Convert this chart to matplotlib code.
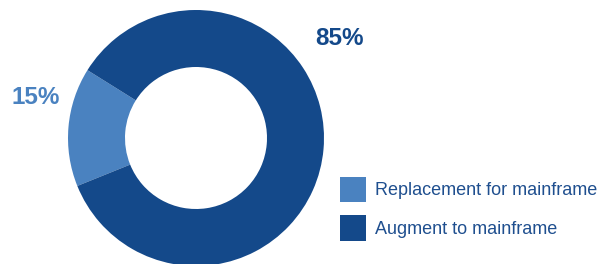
import matplotlib
matplotlib.use("Agg")
import matplotlib.pyplot as plt

categories = ["Replacement for mainframe", "Augment to mainframe"]
values = [15, 85]
colors = ["#4a82c0", "#14498a"]
label_pos = [(-1.25, 0.32), (1.121, 0.777)]

plt.rcParams['font.family'] = ['Liberation Sans', 'DejaVu Sans']

fig = plt.figure(figsize=(6.13, 2.64), dpi=100)
ax = fig.add_axes([68/613, -2/264, 256/613, 256/264])
wedges, _ = ax.pie(values, colors=colors, startangle=148, counterclock=True,
                   radius=1, wedgeprops=dict(width=1 - 71/128, linewidth=0))
ax.set_xlim(-1, 1)
ax.set_ylim(-1, 1)
ax.set_aspect('equal')
ax.axis('off')

for v, c, (x, y) in zip(values, colors, label_pos):
    ax.text(x, y, f"{v}%", color=c, fontsize=17.5, fontweight='bold',
            ha='center', va='center', clip_on=False)

leg = fig.legend(wedges, categories, loc='upper left',
                 bbox_to_anchor=(340/613, 1 - 177/264), frameon=False,
                 fontsize=13, handlelength=1.44, handleheight=1.78,
                 handletextpad=0.5, labelspacing=0.72, borderpad=0,
                 borderaxespad=0)
for t in leg.get_texts():
    t.set_color("#1f4f8f")

fig.savefig("out.png", dpi=100)
